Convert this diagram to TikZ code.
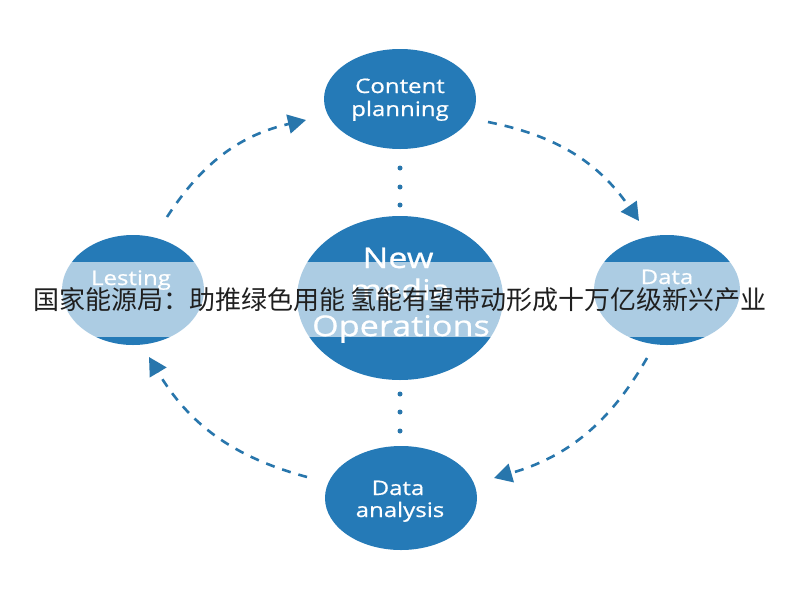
\documentclass[tikz,border=0pt]{standalone}
\usepackage{fontspec}
\setmainfont{Open Sans}
\newfontfamily\lblfont{Open Sans}[FakeStretch=1.2, UprightFeatures={FakeBold=0.7}]
\newfontfamily\cjk{Noto Sans CJK SC}
\usetikzlibrary{shapes.geometric,arrows.meta}
\definecolor{cblue}{RGB}{37,122,183}
\definecolor{ablue}{RGB}{40,118,172}
\tikzset{
  bubble/.style={ellipse, fill=cblue, inner sep=0pt},
  lbl/.style={text=white, anchor=base, inner sep=0pt, font=\lblfont\fontsize{20}{22}\selectfont},
  biglbl/.style={text=white, anchor=base, inner sep=0pt, font=\lblfont\fontsize{28.5}{30}\selectfont},
  flow/.style={draw=ablue, line width=2.6pt, dash pattern=on 9pt off 8pt,
    -{Triangle[length=18pt,width=19pt,fill=ablue]}},
  dotmark/.style={circle, fill=ablue, inner sep=0pt, minimum size=5pt},
}
\begin{document}
\begin{tikzpicture}[x=1pt,y=-1pt]
\useasboundingbox (0,0) rectangle (800,600);
\fill[white] (0,0) rectangle (800,600);
% ellipses
\node[bubble, minimum width=152pt, minimum height=100pt] (cp) at (400,99) {};
\node[bubble, minimum width=206pt, minimum height=164pt] (nm) at (400,298) {};
\node[bubble, minimum width=142pt, minimum height=110pt] (ls) at (133,290) {};
\node[bubble, minimum width=146pt, minimum height=110pt] (dt) at (667,290) {};
\node[bubble, minimum width=152pt, minimum height=104pt] (da) at (401,498) {};
% labels
\node[lbl] (cp1) at (400,93) {Content};
\node[lbl] (cp2) at (400,116) {planning};
\node[biglbl] (nm1) at (398,268) {New};
\node[biglbl] (nm2) at (400,300) {media};
\node[biglbl] (nm3) at (401,336) {Operations};
\node[lbl] (ls1) at (131,285) {Lesting};
\node[lbl] (dt1) at (667,284) {Data};
\node[lbl] (da1) at (398,495) {Data};
\node[lbl] (da2) at (400,517) {analysis};
% dots
\node[dotmark] (d1) at (400,168) {};
\node[dotmark] (d2) at (400,187) {};
\node[dotmark] (d3) at (400,205) {};
\node[dotmark] (d4) at (400,394) {};
\node[dotmark] (d5) at (400,412) {};
\node[dotmark] (d6) at (400,431) {};
% arrow ends
\coordinate (a1s) at (167,217);
\coordinate (a1e) at (306,120);
\coordinate (a2s) at (488,122);
\coordinate (a2e) at (639,221);
\coordinate (a3s) at (647,358);
\coordinate (a3e) at (494,478);
\coordinate (a4s) at (307,477);
\coordinate (a4e) at (149,357);
\draw[flow] (a1s) to[bend left=22] (a1e);
\draw[flow] (a2s) to[bend left=22] (a2e);
\draw[flow] (a3s) to[bend left=22] (a3e);
\draw[flow] (a4s) to[bend left=22] (a4e);
% band
\fill[white, opacity=0.62] (0,262) rectangle (800,337);
\node[text=black!88, font=\cjk\fontsize{26}{28}\selectfont, inner sep=0pt] (title) at (400,300) {国家能源局：助推绿色用能 氢能有望带动形成十万亿级新兴产业};
\end{tikzpicture}
\end{document}
